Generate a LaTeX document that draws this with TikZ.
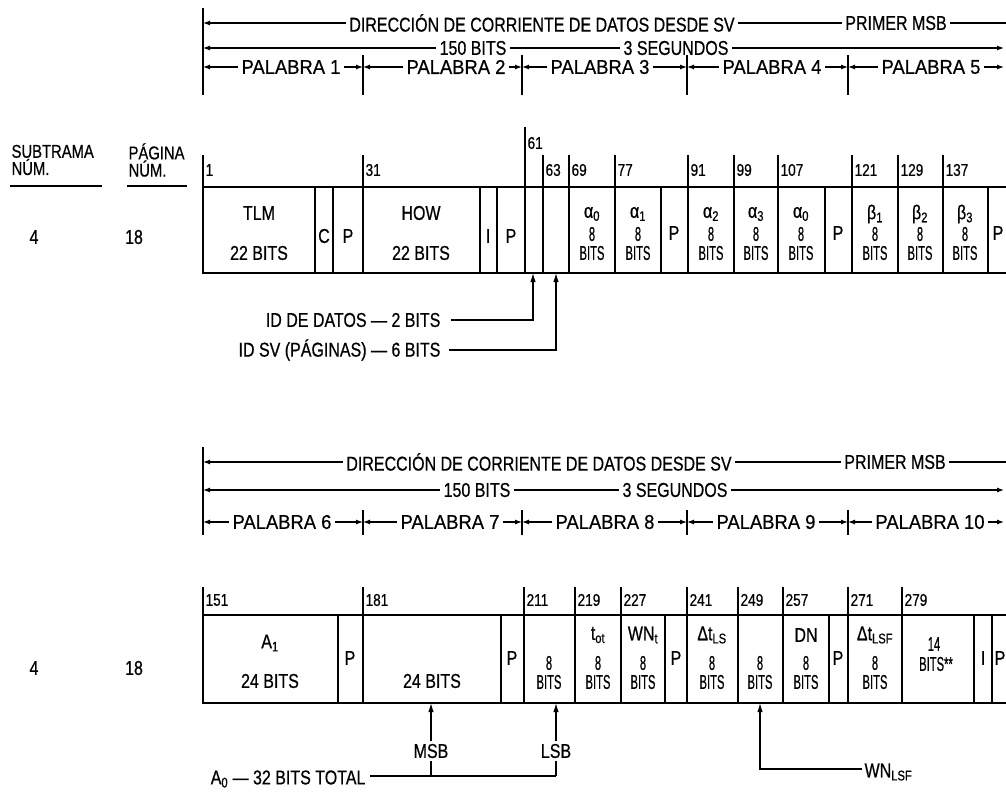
\documentclass[tikz,border=0pt]{standalone}
\usepackage{fontspec}
\setmainfont{Liberation Sans}
\newfontfamily\cond{Liberation Sans}[FakeStretch=0.8,FakeBold=0.6]
\newfontfamily\wide{Liberation Sans}[FakeStretch=0.92,FakeBold=0.6]
\newcommand{\nb}[1]{\scalebox{0.7}[1]{#1}}
\usetikzlibrary{arrows.meta}
\begin{document}
\begin{tikzpicture}[x=1pt,y=-1pt,line width=1.2pt,
  hdr/.style={font=\cond\fontsize{20}{20}\selectfont,inner sep=3pt},
  wrd/.style={font=\wide\fontsize{20}{20}\selectfont,inner sep=3pt},
  lab/.style={font=\cond\fontsize{20}{20}\selectfont,inner sep=2pt},
  num/.style={font=\cond\fontsize{17}{17}\selectfont,anchor=west,inner sep=2pt},
  cell/.style={font=\cond\fontsize{20}{19}\selectfont,inner sep=0pt},
  side/.style={font=\cond\fontsize{18.5}{15}\selectfont,inner sep=0pt,align=left,anchor=west},
  ncell/.style={font=\cond\fontsize{20}{17}\selectfont,inner sep=0pt},
  tbl/.style={line width=1.4pt},
  arr/.style={-{Latex[length=7pt,width=5pt]}},
  uarr/.style={-{Latex[length=9pt,width=5.5pt]}}]
\useasboundingbox (0,0) rectangle (1006,795);

% ================= TOP HEADER =================
\draw (203,8) -- (203,95);
\coordinate (L1) at (203,23); \coordinate (R1) at (1006,23);
\node[hdr] (dir1) at (542,23) {DIRECCIÓN DE CORRIENTE DE DATOS DESDE SV};
\node[hdr] (pm1) at (896,23) {PRIMER MSB};
\draw[arr] (dir1.west) -- (L1);
\draw (dir1.east) -- (pm1.west);
\draw (pm1.east) -- (R1);
\coordinate (L2) at (203,48); \coordinate (R2) at (1004,48);
\node[hdr] (bt1) at (473,48) {150 BITS};
\node[hdr] (sg1) at (676,48) {3 SEGUNDOS};
\draw[arr] (bt1.west) -- (L2);
\draw (bt1.east) -- (sg1.west);
\draw[arr] (sg1.east) -- (R2);
\foreach \i/\c/\l/\r in {1/291/203/363,2/456/363/522,3/600/522/687,4/772/687/848,5/931/848/1004}{
  \coordinate (wl\i) at (\l,67); \coordinate (wr\i) at (\r,67);
  \node[wrd] (w\i) at (\c,67) {PALABRA \i};
  \draw[arr] (w\i.west) -- (wl\i);
  \draw[arr] (w\i.east) -- (wr\i);
}
\foreach \x in {363,522,687,848} \draw (\x,55) -- (\x,95);

% ================= TOP LEFT LABELS =================
\node[side] (sub) at (11,160) {SUBTRAMA\\NÚM.};
\node[side] (pag) at (128,160) {PÁGINA\\NÚM.};
\draw (10,186) -- (102,186);
\draw (127,186) -- (187,186);
\node[cell] (sv1) at (34,237) {4};
\node[cell] (pg1) at (134,237) {18};

% ================= TOP TABLE =================
\draw[tbl] (203,155) -- (203,273) -- (1006,273);
\draw[tbl] (203,187) -- (1006,187);
\foreach \x in {315,333,363,480,497,525,543,569,615,661,688,734,778,825,852,898,943,988}
  \draw[tbl] (\x,187) -- (\x,273);
\node[num] (t1) at (203,170) {1};
\draw (525,127) -- (525,187);
\node[num] (t61) at (525,143) {61};
\foreach \x/\n in {363/31,543/63,569/69,615/77,688/91,734/99,778/107,852/121,898/129,943/137}{
  \draw (\x,155) -- (\x,187);
  \node[num] (t\n) at (\x,170) {\n};
}
\node[cell] (tlm) at (259,213) {TLM};
\node[cell] (tlmb) at (259,253) {22 BITS};
\node[cell] (cc) at (324,236) {C};
\node[cell] (p1) at (348,236) {P};
\node[cell] (how) at (421,213) {HOW};
\node[cell] (howb) at (421,253) {22 BITS};
\node[cell] (ii) at (488,236) {I};
\node[cell] (p2) at (511,236) {P};
\foreach \c/\g/\k in {592/α\textsubscript{0}/a, 638/α\textsubscript{1}/b, 711/α\textsubscript{2}/c, 756/α\textsubscript{3}/d, 801/α\textsubscript{0}/e, 875/β\textsubscript{1}/f, 920/β\textsubscript{2}/g, 965/β\textsubscript{3}/h}{
  \node[cell] (g\k) at (\c,214) {\g};
  \node[ncell] (e\k) at (\c,234) {\nb{8}};
  \node[ncell] (s\k) at (\c,253) {\nb{BITS}};
}
\node[cell] (p3) at (674,233) {P};
\node[cell] (p4) at (838,233) {P};
\node[cell] (p5) at (998,233) {P};

% ================= TOP ANNOTATIONS =================
\coordinate (idA) at (533,273); \coordinate (idB) at (556,273);
\node[lab,anchor=east] (idd) at (443,320) {ID DE DATOS — 2 BITS};
\node[lab,anchor=east] (ids) at (443,350) {ID SV (PÁGINAS) — 6 BITS};
\draw[uarr] ([xshift=8pt]idd.east) -| (idA);
\draw[uarr] ([xshift=6pt]ids.east) -| (idB);

% ================= BOTTOM HEADER =================
\draw (203,447) -- (203,535);
\coordinate (L3) at (203,462); \coordinate (R3) at (1006,462);
\node[hdr] (dir2) at (539,462) {DIRECCIÓN DE CORRIENTE DE DATOS DESDE SV};
\node[hdr] (pm2) at (895,462) {PRIMER MSB};
\draw[arr] (dir2.west) -- (L3);
\draw (dir2.east) -- (pm2.west);
\draw (pm2.east) -- (R3);
\coordinate (L4) at (203,490); \coordinate (R4) at (1004,490);
\node[hdr] (bt2) at (477,490) {150 BITS};
\node[hdr] (sg2) at (675,490) {3 SEGUNDOS};
\draw[arr] (bt2.west) -- (L4);
\draw (bt2.east) -- (sg2.west);
\draw[arr] (sg2.east) -- (R4);
\foreach \i/\c/\l/\r in {6/282/203/363,7/450/363/522,8/605/522/687,9/766/687/848,10/930/848/1004}{
  \coordinate (wl\i) at (\l,522); \coordinate (wr\i) at (\r,522);
  \node[wrd] (w\i) at (\c,522) {PALABRA \i};
  \draw[arr] (w\i.west) -- (wl\i);
  \draw[arr] (w\i.east) -- (wr\i);
}
\foreach \x in {363,522,687,848} \draw (\x,510) -- (\x,535);

% ================= BOTTOM TABLE =================
\node[cell] (sv2) at (34,668) {4};
\node[cell] (pg2) at (134,668) {18};
\draw[tbl] (203,587) -- (203,703) -- (1006,703);
\draw[tbl] (203,615) -- (1006,615);
\foreach \x in {338,363,501,524,575,621,665,687,738,783,829,848,902,974,992}
  \draw[tbl] (\x,615) -- (\x,703);
\node[num] (t151) at (203,600) {151};
\foreach \x/\n in {363/181,524/211,575/219,621/227,687/241,738/249,783/257,848/271,902/279}{
  \draw (\x,587) -- (\x,615);
  \node[num] (t\n) at (\x,600) {\n};
}
\node[cell] (a1) at (270,643) {A\textsubscript{1}};
\node[cell] (a1b) at (270,681) {24 BITS};
\node[cell] (q1) at (350,658) {P};
\node[cell] (a0b) at (432,681) {24 BITS};
\node[cell] (q2) at (512,658) {P};
\node[ncell] (e1) at (549,663) {\nb{8}};
\node[ncell] (s1) at (549,682) {\nb{BITS}};
\foreach \c/\g/\k in {598/t\textsubscript{ot}/t, 643/WN\textsubscript{t}/u, 712/Δt\textsubscript{LS}/v, 806/DN/x, 875/Δt\textsubscript{LSF}/y}{
  \node[cell] (h\k) at (\c,635) {\g};
}
\foreach \c/\k in {598/t,643/u,712/v,760/w,806/x,875/y}{
  \node[ncell] (f\k) at (\c,663) {\nb{8}};
  \node[ncell] (r\k) at (\c,682) {\nb{BITS}};
}
\node[cell] (q3) at (676,658) {P};
\node[cell] (q4) at (838,658) {P};
\node[ncell] (f14) at (934,644) {\nb{14}};
\node[ncell] (b14) at (936,664) {\nb{BITS**}};
\node[cell] (i2) at (983,658) {I};
\node[cell] (q5) at (1000,658) {P};

% ================= BOTTOM ANNOTATIONS =================
\coordinate (msbT) at (431,703); \coordinate (lsbT) at (556,703);
\coordinate (j1) at (431,776); \coordinate (j2) at (556,776);
\node[lab] (msb) at (431,751) {MSB};
\node[lab] (lsb) at (556,751) {LSB};
\node[lab,anchor=east] (a0) at (368,779) {A\textsubscript{0} — 32 BITS TOTAL};
\draw ([xshift=2pt]a0.east |- j1) -- (j2);
\draw (j1) -- (msb.south);
\draw (j2) -- (lsb.south);
\draw[uarr] (msb.north) -- (msbT);
\draw[uarr] (lsb.north) -- (lsbT);
\coordinate (wnT) at (760,703);
\node[lab,anchor=west] (wn) at (862,772) {WN\textsubscript{LSF}};
\draw[uarr] (wn.west |- 0,769) -| (wnT);
\end{tikzpicture}
\end{document}
